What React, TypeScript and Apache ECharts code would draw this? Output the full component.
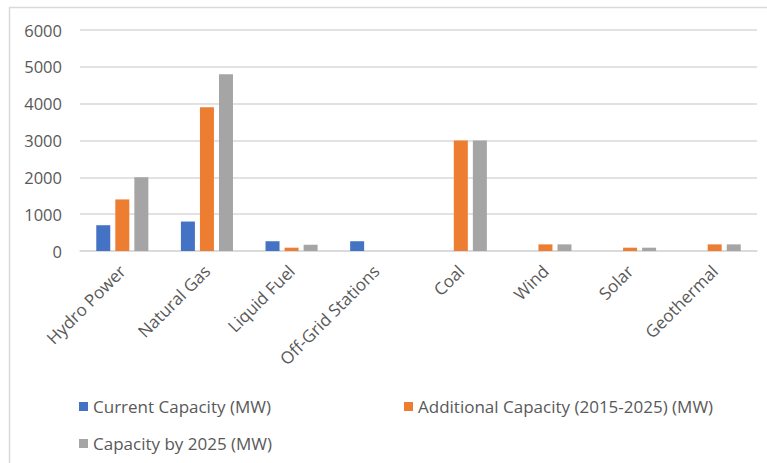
import React, { useEffect, useRef } from "react";
import * as echarts from "echarts";

// Power generation capacity by source (MW)
const categories = [
  "Hydro Power",
  "Natural Gas",
  "Liquid Fuel",
  "Off-Grid Stations",
  "Coal",
  "Wind",
  "Solar",
  "Geothermal",
];
const currentCapacity = [700, 800, 265, 265, 0, 0, 0, 0];
const additionalCapacity = [1400, 3900, 90, 0, 3000, 180, 90, 180];
const capacityBy2025 = [2000, 4800, 170, 0, 3000, 180, 90, 180];
const seriesNames = [
  "Current Capacity (MW)",
  "Additional Capacity (2015-2025) (MW)",
  "Capacity by 2025 (MW)",
];
const yTicks = { min: 0, max: 6000, interval: 1000 };

const FONT = "'Open Sans', sans-serif";
const TEXT = "#595959";
const GRID = "#d9d9d9";
const COLORS = ["#4472C4", "#ED7D31", "#A5A5A5"];

export default function App() {
  const ref = useRef<HTMLDivElement>(null);

  useEffect(() => {
    if (!ref.current) return;
    const chart = echarts.init(ref.current, null, { renderer: "svg" });
    const legendText = { color: TEXT, fontFamily: FONT, fontSize: 17 };
    const legendBase = {
      icon: "rect",
      itemWidth: 9,
      itemHeight: 9,
      itemGap: 5,
      textStyle: legendText,
      selectedMode: false,
    };
    chart.setOption({
      animation: false,
      backgroundColor: "#ffffff",
      color: COLORS,
      graphic: [
        {
          type: "rect",
          shape: { x: 9.5, y: 7.5, width: 800, height: 500 },
          style: { fill: "none", stroke: GRID, lineWidth: 1.5 },
          silent: true,
        },
      ],
      grid: { left: 80, right: 10, top: 30, bottom: 212, containLabel: false },
      legend: [
        { ...legendBase, data: [seriesNames[0]], left: 74, top: 393 },
        { ...legendBase, data: [seriesNames[1]], left: 399, top: 393 },
        { ...legendBase, data: [seriesNames[2]], left: 74, top: 430 },
      ],
      xAxis: {
        type: "category",
        data: categories,
        axisLine: { show: true, lineStyle: { color: GRID, width: 1.5 } },
        axisTick: { show: false },
        axisLabel: {
          rotate: 45,
          interval: 0,
          margin: 17,
          color: TEXT,
          fontFamily: FONT,
          fontSize: 17,
        },
      },
      yAxis: {
        type: "value",
        min: yTicks.min,
        max: yTicks.max,
        interval: yTicks.interval,
        axisLine: { show: false },
        axisTick: { show: false },
        splitLine: { lineStyle: { color: GRID, width: 1.5 } },
        axisLabel: {
          margin: 18,
          color: TEXT,
          fontFamily: FONT,
          fontSize: 16.5,
          formatter: (v: number) => String(v),
        },
      },
      series: [
        { name: seriesNames[0], type: "bar", data: currentCapacity, barWidth: 14, barGap: "36%" },
        { name: seriesNames[1], type: "bar", data: additionalCapacity, barWidth: 14, barGap: "36%" },
        { name: seriesNames[2], type: "bar", data: capacityBy2025, barWidth: 14, barGap: "36%" },
      ],
    });
    return () => chart.dispose();
  }, []);

  return (
    <div
      ref={ref}
      style={{ position: "fixed", left: 0, top: 0, width: 767, height: 463 }}
    />
  );
}
